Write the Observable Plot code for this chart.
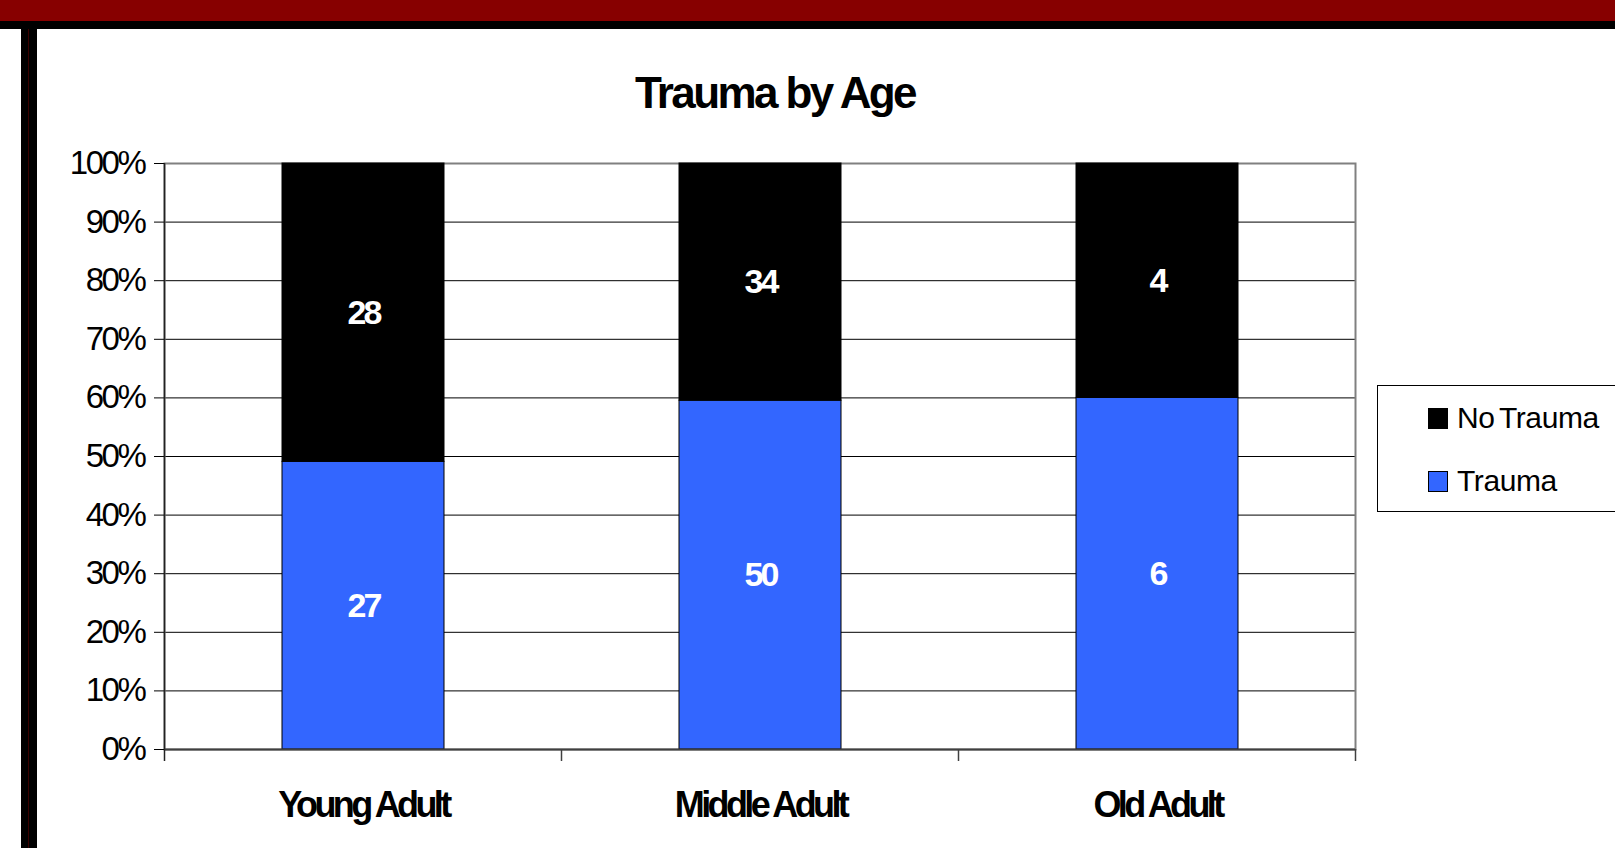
<!DOCTYPE html>
<html>
<head>
<meta charset="utf-8">
<script src="https://cdn.jsdelivr.net/npm/d3@7"></script>
<script src="https://cdn.jsdelivr.net/npm/@observablehq/plot@0.6"></script>
<style>
  html, body { margin: 0; padding: 0; background: #fff; overflow: hidden; }
  #wrap { position: relative; width: 1615px; height: 848px; overflow: hidden; background: #fff;
          font-family: "Liberation Sans", Arial, sans-serif; }
  #wrap svg { position: absolute; left: 0; top: 0; }
  .deco { position: absolute; }
  #title { position: absolute; left: 775px; top: 71px; transform: translateX(-50%); white-space: nowrap;
           font-size: 44px; line-height: 44px; font-weight: bold; letter-spacing: -2.6px; color: #000; }
  #legend { position: absolute; left: 1377px; top: 385px; width: 300px; height: 127px;
            border: 1px solid #000; background: #fff; box-sizing: border-box; }
  .lg-sw { position: absolute; width: 20px; height: 21px; box-sizing: border-box; border: 1px solid #000; }
  .lg-tx { position: absolute; font-size: 30px; line-height: 30px; letter-spacing: -0.4px; word-spacing: -3px; color: #000; white-space: nowrap; }
</style>
</head>
<body>
<div id="wrap">
  <div class="deco" style="left:0;top:0;width:1615px;height:21px;background:#870000"></div>
  <div class="deco" style="left:0;top:21px;width:1615px;height:8px;background:#000"></div>
  <div class="deco" style="left:21px;top:21px;width:16px;height:827px;background:#000"></div>
  <div class="deco" style="left:28px;top:29px;width:1px;height:819px;background:#3a0000"></div>
  <div id="title">Trauma by Age</div>
  <div id="legend"></div>
</div>
<script>
// ---- data ----
const categories = ["Young Adult", "Middle Adult", "Old Adult"];
const traumaCounts = [27, 50, 6];
const noTraumaCounts = [28, 34, 4];
const seriesNames = ["Trauma", "No Trauma"];
const seriesColors = ["#3366FF", "#000000"];
const legendOrder = ["No Trauma", "Trauma"];
const yTicks = [0, 0.1, 0.2, 0.3, 0.4, 0.5, 0.6, 0.7, 0.8, 0.9, 1];
const yTickLabels = ["0%", "10%", "20%", "30%", "40%", "50%", "60%", "70%", "80%", "90%", "100%"];

const data = categories.flatMap((c, i) => [
  {age: c, status: seriesNames[0], count: traumaCounts[i]},
  {age: c, status: seriesNames[1], count: noTraumaCounts[i]}
]);

const plot = Plot.plot({
  width: 1615,
  height: 848,
  marginLeft: 164,
  marginRight: 260,
  marginTop: 163,
  marginBottom: 99,
  style: {fontFamily: "'Liberation Sans', Arial, sans-serif", background: "transparent", overflow: "visible", color: "#000"},
  x: {domain: categories, paddingInner: 0.592, paddingOuter: 0.296, label: null},
  y: {domain: [0, 1], label: null},
  color: {domain: seriesNames, range: seriesColors},
  marks: [
    Plot.ruleY(yTicks.slice(1, -1), {stroke: "#000", strokeWidth: 1}),
    Plot.frame({stroke: "#808080", strokeWidth: 2}),
    Plot.barY(data, {x: "age", y: "count", fill: "status", offset: "normalize", stroke: "#000", strokeWidth: 1}),
    Plot.ruleY([0], {stroke: "#404040", strokeWidth: 2}),
    Plot.text(data, Plot.stackY({
      x: "age", y: "count", z: "status", offset: "normalize",
      text: d => String(d.count), fill: "white", fontSize: 34, fontWeight: "bold"
    })),
    Plot.axisY({
      ticks: yTicks,
      tickFormat: d => yTickLabels[yTicks.findIndex(t => Math.abs(t - d) < 1e-9)],
      tickSize: 10, tickPadding: 10, fontSize: 33, label: null
    }),
    Plot.axisX({tickSize: 0, tickPadding: 42, fontSize: 36, fontWeight: "bold", label: null})
  ]
});

document.getElementById("wrap").appendChild(plot);

const svg = d3.select(plot);
svg.selectAll('g[aria-label="y-axis tick label"] text').style("letter-spacing", "-2.4px");
svg.selectAll('g[aria-label="x-axis tick label"] text').style("letter-spacing", "-3.6px");
svg.selectAll('g[aria-label="text"] text').style("letter-spacing", "-3px");

// axis line and category boundary ticks from the scales
const xs = plot.scale("x");
const ys = plot.scale("y");
const y0 = ys.apply(0), y1 = ys.apply(1);
const gap = (xs.step - xs.bandwidth) / 2;
const bounds = categories.map(c => xs.apply(c) - gap);
bounds.push(xs.apply(categories[categories.length - 1]) + xs.bandwidth + gap);
const g = svg.append("g");
g.append("line").attr("x1", bounds[0]).attr("x2", bounds[0]).attr("y1", y1).attr("y2", y0 + 12)
  .attr("stroke", "#222").attr("stroke-width", 1.5);
bounds.slice(1).forEach(b => {
  g.append("line").attr("x1", b).attr("x2", b).attr("y1", y0).attr("y2", y0 + 12)
    .attr("stroke", "#404040").attr("stroke-width", 1.5);
});

// legend
const legend = document.getElementById("legend");
legendOrder.forEach((name, i) => {
  const sw = document.createElement("div");
  sw.className = "lg-sw";
  sw.style.left = (1428 - 1377 - 1) + "px";
  sw.style.top = (408 - 385 - 1 + i * 63) + "px";
  sw.style.background = seriesColors[seriesNames.indexOf(name)];
  legend.appendChild(sw);
  const tx = document.createElement("div");
  tx.className = "lg-tx";
  tx.style.left = (1457 - 1377 - 1) + "px";
  tx.style.top = (403 - 385 - 1 + i * 63) + "px";
  tx.textContent = name;
  legend.appendChild(tx);
});
</script>
</body>
</html>
